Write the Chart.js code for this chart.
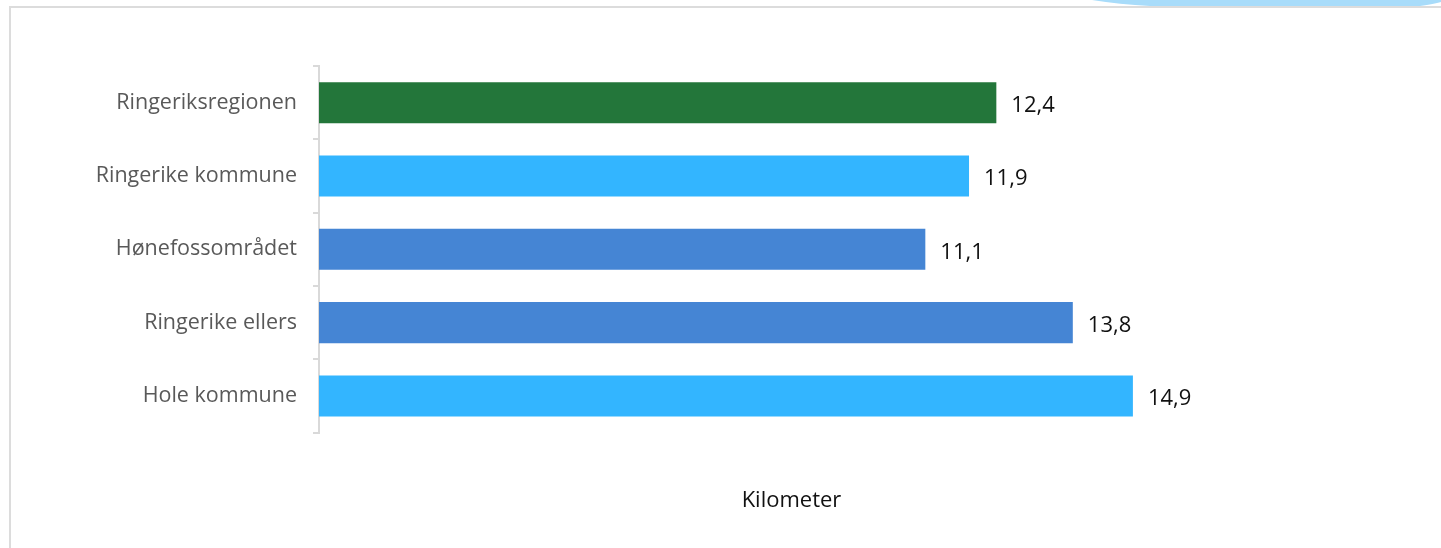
<!DOCTYPE html>
<html lang="no">
<head>
<meta charset="utf-8">
<title>Kilometer</title>
<script src="https://cdn.jsdelivr.net/npm/chart.js@4"></script>
<style>
    html, body { margin: 0; padding: 0; background: #fff; }
    #wrap { position: relative; width: 1441px; height: 548px; overflow: hidden; }
    #frame {
        position: absolute; left: 9px; top: 6px; width: 1500px; height: 600px;
        border: 2px solid #dcdcdc; box-sizing: border-box; pointer-events: none;
    }
    #deco { position: absolute; left: 0; top: 0; pointer-events: none; }
    canvas { position: absolute; left: 0; top: 0; }
</style>
</head>
<body>
<div id="wrap">
    <canvas id="barChart" width="1441" height="548"></canvas>
    <div id="frame"></div>
    <svg id="deco" width="1441" height="10">
        <path d="M1092,0 C1110,3 1130,5 1150,6 L1420,6 C1430,5 1436,3 1441,2 L1441,0 Z" fill="#a8dcfa"/>
    </svg>
</div>

<script>
// ===== MA'LUMOTLAR =====
const categories = ['Ringeriksregionen', 'Ringerike kommune', 'Hønefossområdet', 'Ringerike ellers', 'Hole kommune'];
const values = [12.4, 11.9, 11.1, 13.8, 14.9];
const barColors = ['#23763a', '#33b5ff', '#4585d4', '#4585d4', '#33b5ff'];
const axisTitle = 'Kilometer';

document.addEventListener("DOMContentLoaded", () => {

    // bar oxiridagi qiymatlar (12,4 ...)
    const valueLabels = {
        id: 'valueLabels',
        afterDatasetsDraw(chart) {
            const ctx = chart.ctx;
            const meta = chart.getDatasetMeta(0);
            ctx.save();
            ctx.font = '22px "Open Sans", sans-serif';
            ctx.fillStyle = '#111';
            ctx.textAlign = 'left';
            ctx.textBaseline = 'middle';
            meta.data.forEach((bar, i) => {
                const txt = values[i].toFixed(1).replace('.', ',');
                ctx.fillText(txt, bar.x + 15, bar.y + 3);
            });
            ctx.restore();
        }
    };

    const ctx = document.getElementById('barChart').getContext('2d');
    new Chart(ctx, {
        type: 'bar',
        data: {
            labels: categories,
            datasets: [{
                data: values,
                backgroundColor: barColors,
                borderWidth: 0,
                categoryPercentage: 0.56,
                barPercentage: 1
            }]
        },
        plugins: [valueLabels],
        options: {
            indexAxis: 'y',
            responsive: false,
            animation: false,
            layout: { padding: { top: 66, right: 177, bottom: 30, left: 0 } },
            plugins: { legend: { display: false }, tooltip: { enabled: false } },
            scales: {
                x: {
                    min: 0,
                    max: 17.3,
                    grid: { display: false, drawTicks: false },
                    border: { display: false },
                    ticks: { display: false },
                    title: {
                        display: true,
                        text: axisTitle,
                        color: '#111',
                        font: { family: '"Open Sans", sans-serif', size: 22 },
                        padding: { top: 55, bottom: 4 }
                    }
                },
                y: {
                    grid: {
                        drawOnChartArea: false,
                        offset: true,
                        tickLength: 6,
                        color: '#d9d9d9',
                        lineWidth: 2
                    },
                    border: { color: '#d9d9d9', width: 2 },
                    ticks: {
                        color: '#595959',
                        padding: 16,
                        font: { family: '"Open Sans", sans-serif', size: 21.5 }
                    },
                    afterFit(scale) { scale.width = 319; }
                }
            }
        }
    });
});
</script>
</body>
</html>
